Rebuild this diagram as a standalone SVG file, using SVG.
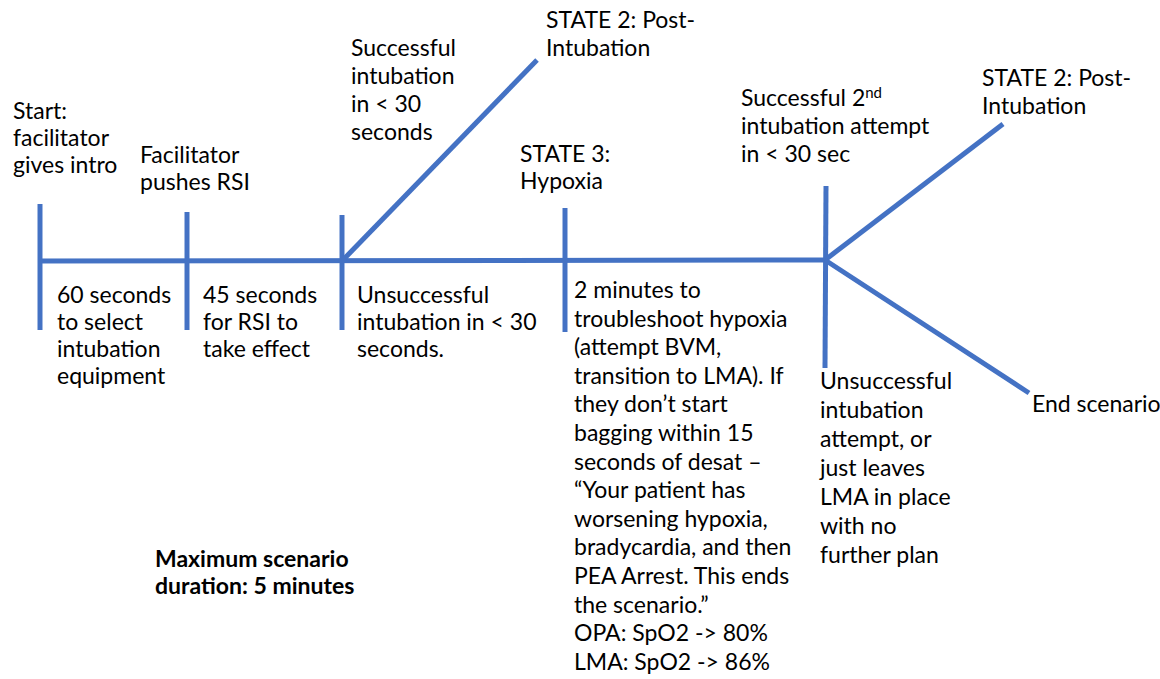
<svg xmlns="http://www.w3.org/2000/svg" width="1160" height="679" viewBox="0 0 1160 679">
<style>
.ln{stroke:#4472C4;stroke-width:5;fill:none;stroke-linecap:butt}
text{font-family:Lato,"Liberation Sans",sans-serif;font-size:23px;fill:#000}
.b{font-weight:bold;font-size:23px}
</style>
<rect width="1160" height="679" fill="#fff"/>
<g id="connectors">
<line class="ln" x1="38" y1="261" x2="825" y2="260"/>
<line class="ln" x1="40" y1="204" x2="40" y2="330"/>
<line class="ln" x1="187" y1="212" x2="187" y2="330"/>
<line class="ln" x1="342" y1="215" x2="342" y2="330"/>
<line class="ln" x1="565" y1="208" x2="565" y2="332"/>
<line class="ln" x1="826" y1="186" x2="825" y2="368"/>
<line class="ln" x1="342" y1="261" x2="537" y2="60"/>
<line class="ln" x1="825" y1="260" x2="1003" y2="124"/>
<line class="ln" x1="825" y1="260" x2="1029" y2="393"/>
</g>
<g id="start"><text x="13" y="119">Start:</text><text x="13" y="146">facilitator</text><text x="13" y="173">gives intro</text></g>
<g id="rsi"><text x="140" y="163">Facilitator</text><text x="140" y="190">pushes RSI</text></g>
<g id="success1"><text x="351" y="56">Successful</text><text x="351" y="84">intubation</text><text x="351" y="112">in &lt; 30</text><text x="351" y="140">seconds</text></g>
<g id="state2a"><text x="546" y="28">STATE 2: Post-</text><text x="546" y="56">Intubation</text></g>
<g id="state3"><text x="520" y="162">STATE 3:</text><text x="520" y="189">Hypoxia</text></g>
<g id="success2"><text x="741" y="106">Successful 2<tspan font-size="15" dy="-8">nd</tspan></text><text x="741" y="134">intubation attempt</text><text x="741" y="162">in &lt; 30 sec</text></g>
<g id="state2b"><text x="982" y="86">STATE 2: Post-</text><text x="982" y="114">Intubation</text></g>
<g id="seg1"><text x="57" y="303">60 seconds</text><text x="57" y="330">to select</text><text x="57" y="357">intubation</text><text x="57" y="384">equipment</text></g>
<g id="seg2"><text x="203" y="303">45 seconds</text><text x="203" y="330">for RSI to</text><text x="203" y="357">take effect</text></g>
<g id="fail1"><text x="357" y="303">Unsuccessful</text><text x="357" y="330">intubation in &lt; 30</text><text x="357" y="357">seconds.</text></g>
<g id="hypoxia">
<text x="574" y="298">2 minutes to</text>
<text x="574" y="326.6">troubleshoot hypoxia</text>
<text x="574" y="355.2">(attempt BVM,</text>
<text x="574" y="383.8">transition to LMA). If</text>
<text x="574" y="412.4">they don’t start</text>
<text x="574" y="441">bagging within 15</text>
<text x="574" y="469.6">seconds of desat –</text>
<text x="574" y="498.2">“Your patient has</text>
<text x="574" y="526.8">worsening hypoxia,</text>
<text x="574" y="555.4">bradycardia, and then</text>
<text x="574" y="584">PEA Arrest. This ends</text>
<text x="574" y="612.6">the scenario.”</text>
<text x="574" y="641.2">OPA: SpO2 -&gt; 80%</text>
<text x="574" y="669.8">LMA: SpO2 -&gt; 86%</text>
</g>
<g id="fail2"><text x="820" y="389">Unsuccessful</text><text x="820" y="418">intubation</text><text x="820" y="447">attempt, or</text><text x="820" y="476">just leaves</text><text x="820" y="505">LMA in place</text><text x="820" y="534">with no</text><text x="820" y="563">further plan</text></g>
<g id="end"><text x="1032" y="412">End scenario</text></g>
<g id="max"><text class="b" x="155" y="567">Maximum scenario</text><text class="b" x="155" y="594">duration: 5 minutes</text></g>
</svg>
